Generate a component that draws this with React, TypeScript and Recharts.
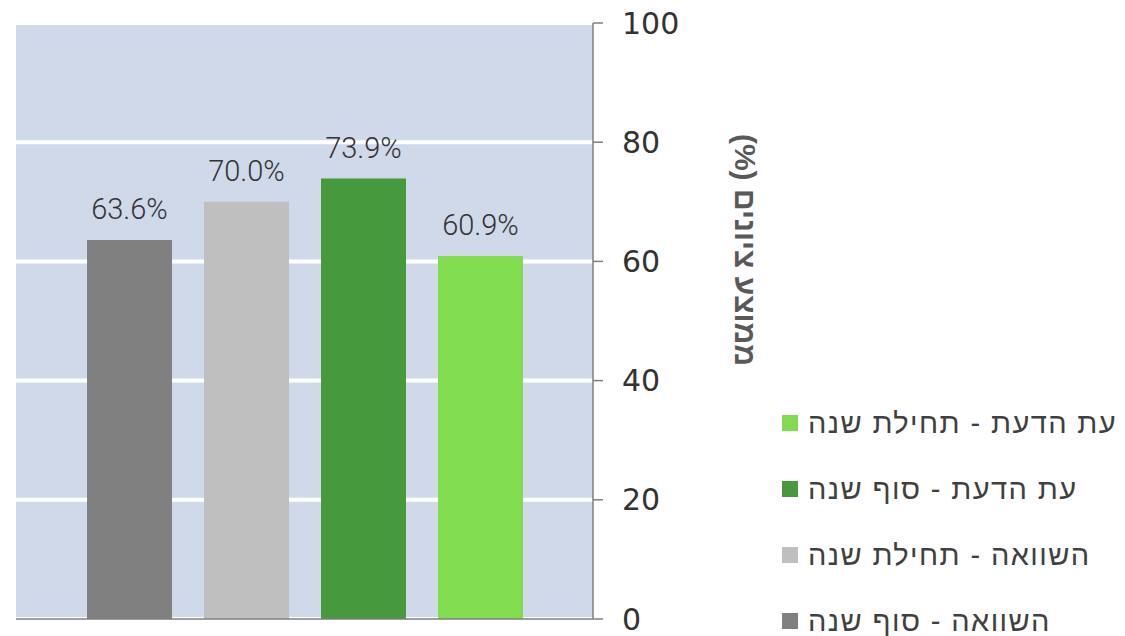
import { BarChart, Bar, XAxis, YAxis, CartesianGrid, Legend, LabelList } from 'recharts';

const categories = ['ממוצע'];
const seriesKeys = ['s0', 's1', 's2', 's3'];
const seriesNames = ['השוואה - סוף שנה', 'השוואה - תחילת שנה', 'עת הדעת - סוף שנה', 'עת הדעת - תחילת שנה'];
const seriesValues = [63.6, 70.0, 73.9, 60.9];
const seriesColors = ['#808080', '#bfbfbf', '#46993c', '#82dc50'];
const legendOrder = [3, 2, 1, 0];
const yTicks = [0, 20, 40, 60, 80, 100];
const axisTitle = 'ממוצע ציונים (%)';

const data = categories.map((name) => {
  const row: Record<string, string | number> = { name };
  seriesKeys.forEach((k, i) => {
    row[k] = seriesValues[i];
  });
  return row;
});

const axisColor = '#7f7f7f';

// vertical axis title, right of the tick labels, reading top to bottom
function renderTitle(props: any) {
  const vb = props.viewBox || { x: 593, y: 23 };
  const cx = vb.x + 152;
  const cy = vb.y + 227;
  return (
    <text
      x={cx}
      y={cy}
      transform={`rotate(90, ${cx}, ${cy})`}
      textAnchor="middle"
      dominantBaseline="central"
      direction="rtl"
      fill="#595959"
      fontSize={30}
      fontWeight="bold"
      fontFamily="'Liberation Sans', 'DejaVu Sans', sans-serif"
    >
      {axisTitle}
    </text>
  );
}

function renderLegend() {
  return (
    <div style={{ fontFamily: "'Liberation Sans', 'DejaVu Sans', sans-serif" }}>
      {legendOrder.map((i) => (
        <div key={seriesKeys[i]} style={{ height: 66, display: 'flex', alignItems: 'center' }}>
          <span style={{ width: 16, height: 16, background: seriesColors[i], display: 'inline-block', marginRight: 10 }} />
          <span style={{ fontSize: 29, letterSpacing: 1.4, color: '#404040', whiteSpace: 'nowrap' }}>{seriesNames[i]}</span>
        </div>
      ))}
    </div>
  );
}

const fmt = (v: any) => (typeof v === 'number' ? `${v.toFixed(1)}%` : v);

export default function App() {
  return (
    <div style={{ position: 'absolute', left: 0, top: 0, width: 1125, height: 636, background: '#ffffff' }}>
      <BarChart
        width={1125}
        height={636}
        data={data}
        margin={{ top: 23, right: 432, bottom: 16, left: 16 }}
        barSize={85}
        barGap={32}
        barCategoryGap={70}
      >
        <CartesianGrid
          horizontal
          vertical={false}
          stroke="#ffffff"
          strokeWidth={4}
          fill="#cfd9ea"
          fillOpacity={1}
        />
        <XAxis
          dataKey="name"
          tick={false}
          tickLine={false}
          height={1}
          axisLine={{ stroke: axisColor, strokeWidth: 1.5 }}
        />
        <YAxis
          orientation="right"
          width={100}
          domain={[0, 100]}
          ticks={yTicks}
          interval={0}
          axisLine={{ stroke: axisColor, strokeWidth: 1.5 }}
          tickLine={{ stroke: axisColor, strokeWidth: 1.5 }}
          tickSize={10}
          tickMargin={19}
          tick={{ fontSize: 30, fill: '#333333', fontFamily: 'DejaVu Sans' }}
          label={{ content: renderTitle }}
        />
        <Legend
          layout="vertical"
          align="center"
          verticalAlign="middle"
          width={343}
          content={renderLegend}
          wrapperStyle={{ left: 782, top: 390, width: 343 }}
        />
        {seriesKeys.map((k, i) => (
          <Bar key={k} dataKey={k} name={seriesNames[i]} fill={seriesColors[i]} isAnimationActive={false}>
            <LabelList
              dataKey={k}
              position="top"
              offset={21}
              formatter={fmt}
              fill="#333333"
              fontSize={29}
              fontWeight={300}
              fontFamily="Roboto"
            />
          </Bar>
        ))}
      </BarChart>
    </div>
  );
}
